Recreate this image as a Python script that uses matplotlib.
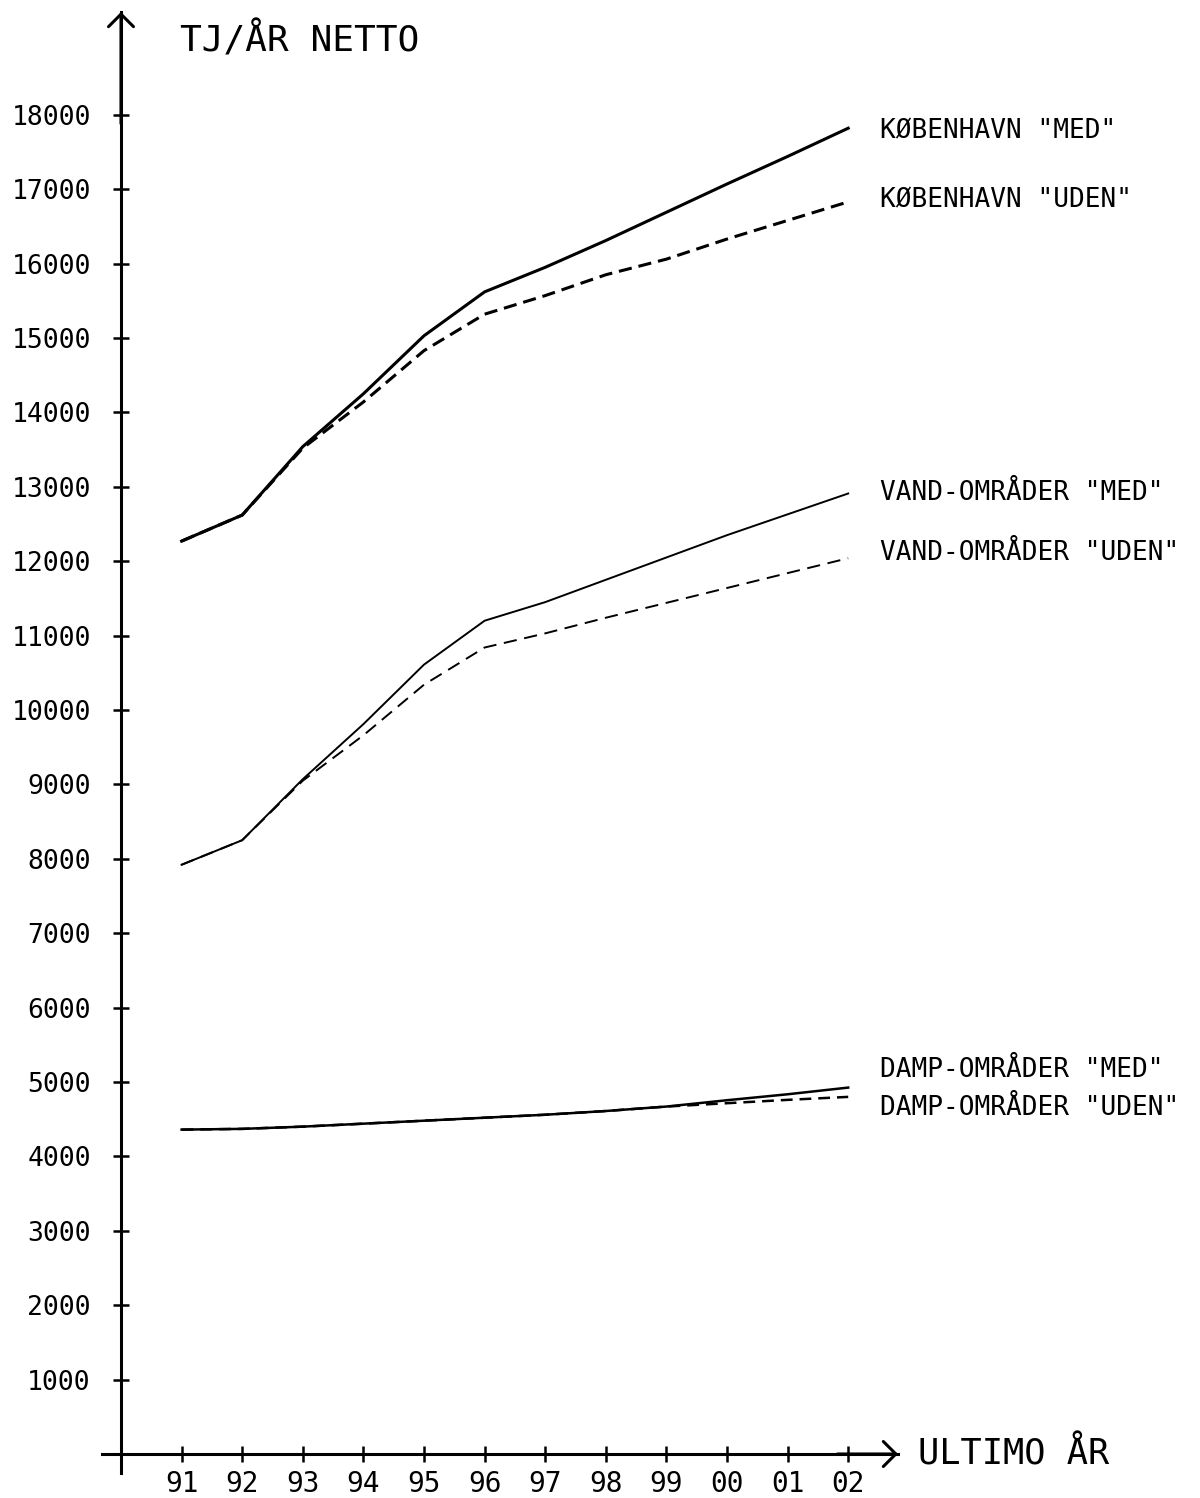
import matplotlib
matplotlib.use('Agg')
import matplotlib.pyplot as plt

# plotter-like lettering: narrow, evenly spaced
plt.rcParams['font.family'] = ['DejaVu Sans Mono', 'DejaVu Sans']
plt.rcParams['lines.scale_dashes'] = False

years = [1991, 1992, 1993, 1994, 1995, 1996, 1997, 1998, 1999, 2000, 2001, 2002]
year_labels = ['91', '92', '93', '94', '95', '96', '97', '98', '99', '00', '01', '02']

kbh_med = [12270, 12620, 13540, 14250, 15030, 15620, 15950, 16310, 16690, 17070, 17440, 17820]
kbh_uden = [12270, 12620, 13520, 14140, 14830, 15320, 15570, 15850, 16060, 16330, 16580, 16830]
vand_med = [7920, 8250, 9070, 9810, 10610, 11200, 11450, 11750, 12050, 12350, 12630, 12910]
vand_uden = [7920, 8250, 9050, 9660, 10340, 10840, 11030, 11240, 11440, 11640, 11840, 12040]
damp_med = [4360, 4370, 4400, 4440, 4480, 4520, 4560, 4610, 4670, 4755, 4835, 4925]
damp_uden = [4360, 4370, 4400, 4440, 4480, 4520, 4560, 4610, 4670, 4715, 4760, 4800]

yticks = list(range(1000, 19000, 1000))

series_labels = ['KØBENHAVN "MED"', 'KØBENHAVN "UDEN"',
                 'VAND-OMRÅDER "MED"', 'VAND-OMRÅDER "UDEN"',
                 'DAMP-OMRÅDER "MED"', 'DAMP-OMRÅDER "UDEN"']
label_y = [17773, 16855, 12917, 12110, 5161, 4651]

# pixel scale of the original drawing
px_year = 60.6
px_tj = 1000 / 74.4

fig = plt.figure(figsize=(12, 14.98), dpi=100)
ax = fig.add_axes([0, 0, 1, 1])
x0 = 1990 - 121 / px_year
ax.set_xlim(x0, x0 + 1200 / px_year)
ax.set_ylim(-(1498 - 1454) * px_tj, 1454 * px_tj)

ax.plot(years, kbh_med, color='black', lw=2.2)
ax.plot(years, kbh_uden, color='black', lw=2.2, dashes=(9.5, 5))
ax.plot(years, vand_med, color='black', lw=1.4)
ax.plot(years, vand_uden, color='black', lw=1.4, dashes=(9.5, 5.5))
ax.plot(years, damp_med, color='black', lw=1.8)
ax.plot(years, damp_uden, color='black', lw=1.8, dashes=(8.5, 5))

# axes drawn as in the original: crossing lines with arrows
for s in ['top', 'right']:
    ax.spines[s].set_visible(False)
ax.spines['left'].set_position(('data', 1990))
ax.spines['bottom'].set_position(('data', 0))
ax.spines['left'].set_linewidth(2.2)
ax.spines['bottom'].set_linewidth(2.2)
y_tip = (1454 - 12) * px_tj
x_tip = 1990 + (898 - 121) / px_year
ax.spines['left'].set_bounds(-19 * px_tj, y_tip)
ax.spines['bottom'].set_bounds(1990 - 19 / px_year, x_tip)

arrow = dict(arrowstyle='->,head_length=0.45,head_width=0.45', lw=2.2,
             color='black', shrinkA=0, shrinkB=0, mutation_scale=20)
ax.annotate('', xy=(1990, y_tip), xytext=(1990, y_tip - 1500), arrowprops=arrow)
ax.annotate('', xy=(x_tip, 0), xytext=(x_tip - 1, 0), arrowprops=arrow)

ax.set_yticks(yticks)
ax.set_yticklabels([str(v) for v in yticks], fontsize=19)
ax.set_xticks(years)
ax.set_xticklabels(year_labels, fontsize=20)
ax.tick_params(axis='y', direction='inout', length=11.5, width=1.8, pad=16)
ax.tick_params(axis='x', direction='inout', length=11.5, width=1.8, pad=6)

for lab, yv in zip(series_labels, label_y):
    ax.text(2002.52, yv, lab, ha='left', va='center', fontsize=18.8)

ax.text(1990 + (180 - 121) / px_year, (1454 - 40) * px_tj, 'TJ/ÅR NETTO',
        ha='left', va='center', fontsize=26)
ax.text(1990 + (918 - 121) / px_year, 0, 'ULTIMO ÅR', ha='left', va='center', fontsize=25.5)

fig.savefig('out.png', dpi=100)
